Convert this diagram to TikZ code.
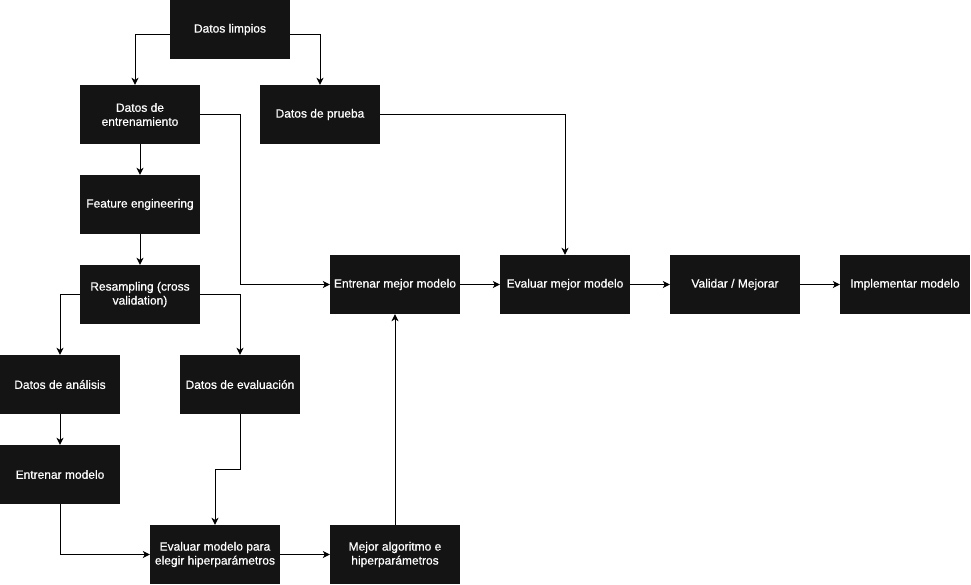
\documentclass[tikz,border=0pt]{standalone}
\usepackage{fontspec}
\setmainfont{Liberation Sans}
\newfontfamily\boxfont[BoldFont={Liberation Sans},BoldFeatures={FakeBold=0.6}]{Liberation Sans}
\usetikzlibrary{arrows.meta,calc}
\definecolor{boxfill}{RGB}{20,20,20}
\tikzset{
  box/.style={fill=boxfill, draw=none, text=white, align=center, inner sep=2pt,
    font=\boxfont\bfseries\fontsize{12}{14}\selectfont, minimum height=59pt},
  w120/.style={minimum width=120pt},
  w130/.style={minimum width=130pt},
  arr/.style={draw=black, line width=1pt, -{Stealth[length=7pt,width=7pt,inset=2pt]}}
}
\begin{document}
\begin{tikzpicture}[x=1pt,y=-1pt]
\useasboundingbox (0,0) rectangle (971,585);
\fill[white] (0,0) rectangle (971,585);
\node[box,w120] (lim) at (230,29.5) {Datos limpios};
\node[box,w120] (ent) at (140,114.5) {Datos de\\entrenamiento};
\node[box,w120] (pru) at (320,114.5) {Datos de prueba};
\node[box,w120] (feat) at (140,204.5) {Feature engineering};
\node[box,w120] (res) at (140,294.5) {Resampling (cross\\validation)};
\node[box,w120] (an) at (60,384.5) {Datos de análisis};
\node[box,w120] (ev) at (240,384.5) {Datos de evaluación};
\node[box,w120] (em) at (60,474.5) {Entrenar modelo};
\node[box,w130] (evm) at (215,554.5) {Evaluar modelo para\\elegir hiperparámetros};
\node[box,w130] (mej) at (395,554.5) {Mejor algoritmo e\\hiperparámetros};
\node[box,w130] (emm) at (395,284.5) {Entrenar mejor modelo};
\node[box,w130] (evmm) at (565,284.5) {Evaluar mejor modelo};
\node[box,w130] (val) at (735,284.5) {Validar / Mejorar};
\node[box,w130] (imp) at (905,284.5) {Implementar modelo};

\draw[arr] ([yshift=-5.5pt]lim.west) -| ([xshift=-5pt]ent.north);
\draw[arr] ([yshift=-5.5pt]lim.east) -| (pru.north);
\draw[arr] (ent) -- (feat);
\draw[arr] (feat) -- (res);
\draw[arr] (res.west) -| (an.north);
\draw[arr] (res.east) -| (ev.north);
\draw[arr] (an) -- (em);
\draw[arr] (em.south) |- (evm.west);
\draw[arr] (ev.south) |- ($(ev.south)!0.5!(evm.north)$) -| (evm.north);
\draw[arr] (evm) -- (mej);
\draw[arr] (mej) -- (emm);
\draw[arr] (ent.east) -- ++(40,0) |- (emm.west);
\draw[arr] (pru.east) -| (evmm.north);
\draw[arr] (emm) -- (evmm);
\draw[arr] (evmm) -- (val);
\draw[arr] (val) -- (imp);
\end{tikzpicture}
\end{document}
